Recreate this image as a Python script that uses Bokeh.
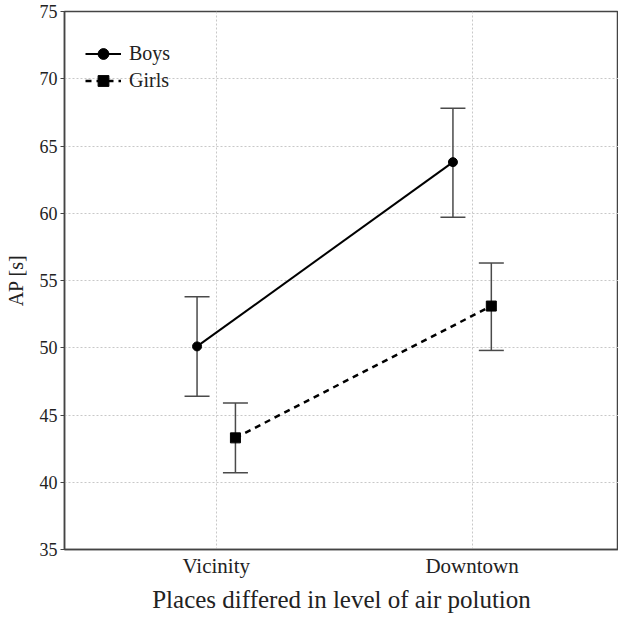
from bokeh.plotting import figure
from bokeh.models import ColumnDataSource, Range1d, FixedTicker, Legend, LegendItem, Whisker
from bokeh.embed import file_html
from bokeh.resources import INLINE

categories = ["Vicinity", "Downtown"]
boys_mean = [50.1, 63.8]
boys_lo = [46.4, 59.7]
boys_hi = [53.8, 67.8]
girls_mean = [43.3, 53.1]
girls_lo = [40.7, 49.8]
girls_hi = [45.9, 56.3]
y_ticks = [35, 40, 45, 50, 55, 60, 65, 70, 75]

FONT = "Liberation Serif"
pos = [i + 1 for i in range(len(categories))]
off = 0.075

boys = ColumnDataSource(dict(x=[p_ - off for p_ in pos], y=boys_mean, lo=boys_lo, hi=boys_hi))
girls = ColumnDataSource(dict(x=[p_ + off for p_ in pos], y=girls_mean, lo=girls_lo, hi=girls_hi))

p = figure(width=618, height=615, output_backend="svg", toolbar_location=None,
           x_range=Range1d(0.407, 2.572), y_range=Range1d(35, 75),
           min_border_left=64, min_border_top=11, min_border_right=0, min_border_bottom=66)

p.outline_line_color = "#444444"
p.outline_line_width = 1.5
p.background_fill_color = "white"
p.border_fill_color = "white"

for ax in (p.xaxis[0], p.yaxis[0]):
    ax.axis_line_color = "#444444"
    ax.axis_line_width = 1.5
    ax.major_label_text_font = FONT
    ax.major_label_text_color = "#222222"
    ax.axis_label_text_font = FONT
    ax.axis_label_text_font_style = "normal"
    ax.axis_label_text_color = "#222222"
    ax.minor_tick_line_color = None

p.xaxis.ticker = FixedTicker(ticks=pos)
p.xaxis.major_label_overrides = {pos[i]: categories[i] for i in range(len(categories))}
p.xaxis.major_label_text_font_size = "21px"
p.xaxis.major_tick_out = 0
p.xaxis.major_tick_in = 0
p.xaxis.major_label_standoff = 4
p.xaxis.axis_label = "Places differed in level of air polution"
p.xaxis.axis_label_text_font_size = "25px"
p.xaxis.axis_label_standoff = 5

p.yaxis.ticker = FixedTicker(ticks=y_ticks)
p.yaxis.major_label_text_font_size = "18px"
p.yaxis.major_tick_out = 4
p.yaxis.major_tick_in = 0
p.yaxis.major_tick_line_color = "#444444"
p.yaxis.major_label_standoff = 3
p.yaxis.axis_label = "AP [s]"
p.yaxis.axis_label_text_font_size = "20px"
p.yaxis.axis_label_standoff = 10

p.grid.grid_line_color = "#c8c8c8"
p.grid.grid_line_dash = "2 2"
p.grid.grid_line_width = 1

# error bars
for src in (boys, girls):
    w = Whisker(source=src, base="x", upper="hi", lower="lo", dimension="height",
                line_color="#4a4a4a", line_width=1.5)
    w.upper_head.size = 25
    w.lower_head.size = 25
    w.upper_head.line_color = "#4a4a4a"
    w.lower_head.line_color = "#4a4a4a"
    w.upper_head.line_width = 1.5
    w.lower_head.line_width = 1.5
    p.add_layout(w)

bl = p.line("x", "y", source=boys, line_color="black", line_width=2)
bs = p.scatter("x", "y", source=boys, marker="circle", size=9, fill_color="black", line_color="black")
gl = p.line("x", "y", source=girls, line_color="black", line_width=2.5, line_dash="6 5")
gs = p.scatter("x", "y", source=girls, marker="square", size=10, fill_color="black", line_color="black")

legend = Legend(items=[LegendItem(label="Boys", renderers=[bl, bs]),
                       LegendItem(label="Girls", renderers=[gl, gs])],
                location=(21, 455), orientation="vertical")
legend.label_text_font = FONT
legend.label_text_font_size = "20px"
legend.label_text_color = "#222222"
legend.glyph_width = 36
legend.glyph_height = 27
legend.label_height = 27
legend.spacing = 0
legend.padding = 0
legend.margin = 0
legend.label_standoff = 8
legend.border_line_color = None
legend.background_fill_alpha = 0
p.add_layout(legend)

open("out.html", "w").write(file_html(p, INLINE))
